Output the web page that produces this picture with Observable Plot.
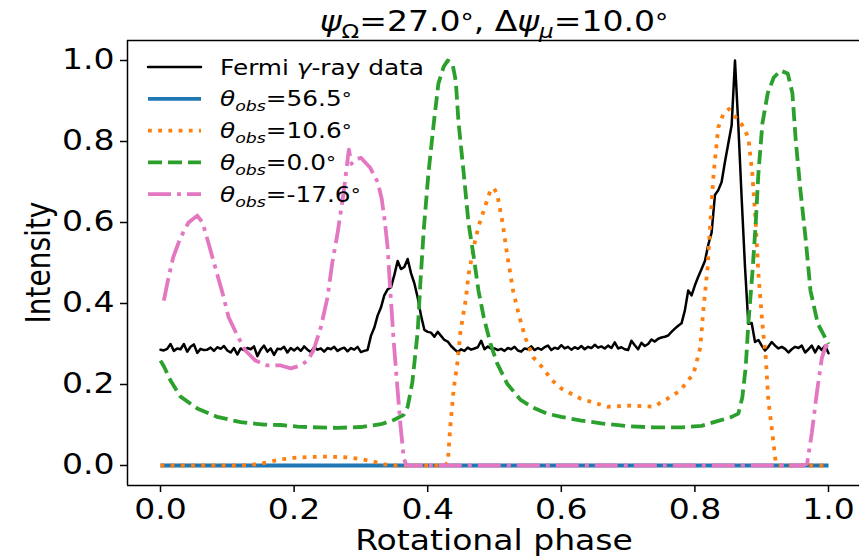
<!DOCTYPE html>
<html><head><meta charset="utf-8">
<script src="https://cdn.jsdelivr.net/npm/d3@7"></script>
<script src="https://cdn.jsdelivr.net/npm/@observablehq/plot@0.6"></script>
<style>
html,body{margin:0;padding:0;background:#fff;}
svg{display:block;}
</style></head><body><div id="chart"></div>
<script>
// ---------------- data ----------------
const xTicks = [0, 0.2, 0.4, 0.6, 0.8, 1.0];
const yTicks = [0, 0.2, 0.4, 0.6, 0.8, 1.0];

// Fermi gamma-ray light curve, bins of 0.005 in phase
const fermiPhase = d3.range(201).map(i => +(i * 0.005).toFixed(3));
const fermiIntensity = [
0.286,0.284,0.288,0.300,0.283,0.289,0.287,0.300,0.281,0.293,
0.299,0.278,0.288,0.285,0.286,0.291,0.283,0.292,0.288,0.295,
0.284,0.279,0.290,0.274,0.289,0.285,0.290,0.287,0.294,0.270,
0.286,0.296,0.281,0.289,0.273,0.288,0.287,0.293,0.279,0.290,
0.284,0.291,0.283,0.294,0.286,0.280,0.292,0.286,0.289,0.281,
0.290,0.287,0.293,0.283,0.288,0.291,0.282,0.290,0.286,0.293,
0.280,0.283,0.285,0.320,0.340,0.370,0.390,0.420,0.435,0.440,
0.470,0.505,0.485,0.490,0.510,0.475,0.450,0.415,0.370,0.335,
0.330,0.328,0.318,0.330,0.320,0.310,0.306,0.295,0.287,0.280,
0.287,0.283,0.291,0.286,0.289,0.292,0.308,0.287,0.294,0.288,
0.289,0.285,0.288,0.283,0.290,0.287,0.293,0.284,0.281,0.289,
0.287,0.294,0.285,0.290,0.286,0.292,0.296,0.285,0.291,0.288,
0.297,0.289,0.293,0.286,0.292,0.288,0.295,0.287,0.293,0.290,
0.298,0.291,0.294,0.289,0.296,0.290,0.304,0.289,0.292,0.287,
0.285,0.308,0.297,0.287,0.303,0.295,0.300,0.311,0.306,0.313,
0.316,0.318,0.321,0.330,0.338,0.345,0.351,0.383,0.432,0.420,
0.445,0.466,0.485,0.505,0.545,0.575,0.668,0.680,0.700,0.750,
0.795,0.840,1.000,0.840,0.660,0.490,0.350,0.352,0.305,0.310,
0.296,0.284,0.293,0.305,0.296,0.289,0.293,0.288,0.279,0.287,
0.293,0.290,0.296,0.279,0.287,0.296,0.279,0.294,0.285,0.296,
0.277
];

// theta_obs = 56.5 deg
const bluePhase = [0, 0.5, 1.0];
const blueIntensity = [0, 0, 0];

// theta_obs = 10.6 deg
const orangePhase = [0,0.12,0.145,0.16,0.18,0.2,0.22,0.25,0.28,0.3,
0.32,0.335,0.35,0.425,0.43,0.434,0.439,0.445,0.449,0.457,
0.461,0.469,0.476,0.484,0.494,0.499,0.504,0.512,0.519,0.528,
0.536,0.546,0.558,0.573,0.585,0.60,0.629,0.669,0.704,0.738,
0.759,0.778,0.798,0.808,0.813,0.819,0.823,0.828,0.835,0.843,
0.851,0.861,0.871,0.880,0.886,0.891,0.895,0.901,0.906,0.910,
0.916,0.921,0.925,1.0];
const orangeIntensity = [0,0,0.003,0.008,0.015,0.019,0.021,0.022,0.02,0.016,
0.009,0.003,0,0,0.007,0.10,0.19,0.26,0.33,0.41,
0.47,0.54,0.59,0.63,0.68,0.685,0.67,0.60,0.52,0.43,
0.375,0.316,0.267,0.24,0.212,0.19,0.165,0.145,0.148,0.145,
0.165,0.185,0.227,0.291,0.39,0.489,0.597,0.72,0.835,0.87,
0.88,0.86,0.84,0.81,0.72,0.60,0.474,0.35,0.267,0.16,
0.079,0.007,0,0];

// theta_obs = 0.0 deg
const greenPhase = [0,0.005,0.015,0.03,0.055,0.085,0.12,0.155,0.18,0.205,
0.235,0.265,0.30,0.33,0.35,0.364,0.370,0.377,0.385,0.389,
0.394,0.401,0.409,0.416,0.424,0.43,0.437,0.442,0.446,0.454,
0.461,0.469,0.476,0.484,0.494,0.504,0.519,0.539,0.558,0.579,
0.60,0.63,0.66,0.70,0.74,0.78,0.81,0.835,0.855,0.865,
0.871,0.876,0.880,0.886,0.891,0.895,0.901,0.909,0.918,0.928,
0.939,0.946,0.951,0.958,0.966,0.973,0.984,1.0];
const greenIntensity = [0.259,0.245,0.21,0.17,0.141,0.12,0.107,0.101,0.1,0.096,
0.094,0.093,0.095,0.102,0.113,0.125,0.145,0.205,0.33,0.45,
0.58,0.72,0.844,0.943,0.985,1.0,0.993,0.95,0.85,0.72,
0.6,0.514,0.432,0.365,0.301,0.252,0.202,0.162,0.143,0.128,
0.12,0.111,0.104,0.097,0.094,0.094,0.098,0.11,0.12,0.128,
0.168,0.242,0.35,0.474,0.597,0.72,0.844,0.919,0.958,0.975,
0.968,0.919,0.802,0.679,0.556,0.432,0.35,0.30];

// theta_obs = -17.6 deg
const pinkPhase = [0.005,0.012,0.019,0.03,0.042,0.055,0.063,0.072,0.082,0.093,
0.102,0.115,0.127,0.142,0.16,0.18,0.195,0.21,0.22,0.229,
0.24,0.25,0.257,0.265,0.274,0.279,0.282,0.286,0.292,0.30,
0.314,0.325,0.331,0.336,0.34,0.344,0.349,0.355,0.359,0.364,
0.368,0.962,0.968,0.975,0.983,0.99,0.996,1.0];
const pinkIntensity = [0.407,0.464,0.514,0.563,0.60,0.617,0.60,0.548,0.489,0.425,
0.366,0.321,0.284,0.259,0.247,0.247,0.24,0.247,0.259,0.284,
0.341,0.415,0.499,0.573,0.672,0.74,0.78,0.745,0.755,0.76,
0.735,0.70,0.66,0.60,0.538,0.432,0.309,0.185,0.104,0.02,
0,0,0.005,0.08,0.185,0.265,0.296,0.29];

// ---------------- styling ----------------
const SX = 1.18; // horizontal stretch of glyphs in the reference
const FONT = "DejaVu Sans";
const X_DOMAIN = [-0.0494, 1.0464];
const Y_DOMAIN = [-0.0494, 1.0494];

const series = [
  {phase: fermiPhase, val: fermiIntensity, color: "#000000", width: 2.5, dash: null, cap: "round",
   label: [{t: "Fermi "}, {t: "γ", i: true}, {t: "-ray data"}]},
  {phase: bluePhase, val: blueIntensity, color: "#1f77b4", width: 3.8, dash: null, cap: "butt",
   label: [{t: "θ", i: true}, {t: "obs", i: true, sub: true}, {t: "=56.5"}, {t: "°", sup: true}]},
  {phase: orangePhase, val: orangeIntensity, color: "#ff7f0e", width: 3.8, dash: "3.8,6.4", cap: "butt",
   label: [{t: "θ", i: true}, {t: "obs", i: true, sub: true}, {t: "=10.6"}, {t: "°", sup: true}]},
  {phase: greenPhase, val: greenIntensity, color: "#2ca02c", width: 3.8, dash: "14,6", cap: "butt",
   label: [{t: "θ", i: true}, {t: "obs", i: true, sub: true}, {t: "=0.0"}, {t: "°", sup: true}]},
  {phase: pinkPhase, val: pinkIntensity, color: "#e377c2", width: 3.8, dash: "23,6,4,6", cap: "butt",
   label: [{t: "θ", i: true}, {t: "obs", i: true, sub: true}, {t: "=-17.6"}, {t: "°", sup: true}]}
];

const lineMarks = series.map(s => Plot.line(s.val, {
  x: (d, i) => s.phase[i], y: d => d,
  stroke: s.color, strokeWidth: s.width,
  strokeDasharray: s.dash || undefined, strokeLinecap: s.cap, strokeLinejoin: "round"
}));

const chart = Plot.plot({
  width: 859, height: 556,
  marginLeft: 127, marginRight: 0, marginTop: 40, marginBottom: 71,
  style: {fontFamily: FONT, fontSize: "28px", color: "#000", background: "#fff", overflow: "visible"},
  x: {domain: X_DOMAIN},
  y: {domain: Y_DOMAIN},
  marks: [
    ...lineMarks,
    Plot.ruleX([X_DOMAIN[0]], {stroke: "#000", strokeWidth: 1.5}),
    Plot.ruleY([Y_DOMAIN[0], Y_DOMAIN[1]], {stroke: "#000", strokeWidth: 1.5}),
    Plot.axisX(xTicks, {tickSize: 7, tickPadding: 7, tickFormat: d3.format(".1f"), label: null, strokeWidth: 1.5, fontSize: 28}),
    Plot.axisY(yTicks, {tickSize: 7, tickPadding: 6, tickFormat: d3.format(".1f"), label: null, strokeWidth: 1.5, fontSize: 28})
  ]
});
document.getElementById("chart").appendChild(chart);

const svg = d3.select(chart);
// stretch tick labels horizontally
svg.selectAll('g[aria-label="x-axis tick label"] text, g[aria-label="y-axis tick label"] text').each(function() {
  const t = this.getAttribute("transform");
  if (t) this.setAttribute("transform", t + ` scale(${SX},1)`);
  else {
    const x = +this.getAttribute("x") || 0, y = +this.getAttribute("y") || 0;
    this.setAttribute("transform", `translate(${x},${y}) scale(${SX},1) translate(${-x},${-y})`);
    }
});

function rich(g, transform, size, parts, anchor) {
  const t = g.append("text").attr("transform", transform)
    .attr("font-family", FONT).attr("font-size", size)
    .attr("text-anchor", anchor || "start").attr("fill", "#000");
  let shift = 0;
  parts.forEach(p => {
    let target = 0;
    if (p.sub) target = 0.24 * size;
    if (p.sup) target = -0.05 * size;
    const ts = t.append("tspan").text(p.t);
    if (p.i) ts.attr("font-style", "italic");
    if (p.sub) ts.attr("font-size", size * 0.7);
    if (p.sup) ts.attr("font-size", size * 0.8);
    if (target !== shift) { ts.attr("dy", target - shift); shift = target; }
  });
  return t;
}

// title
const titleParts = [
  {t: "ψ", i: true}, {t: "Ω", sub: true}, {t: "=27.0"}, {t: "°", sup: true}, {t: ", Δ"},
  {t: "ψ", i: true}, {t: "μ", i: true, sub: true}, {t: "=10.0"}, {t: "°", sup: true}
];
rich(svg, `translate(494,31) scale(${SX},1)`, 28, titleParts, "middle");

// axis titles
svg.append("text").attr("transform", `translate(494,549.5) scale(${SX},1)`)
  .attr("font-family", FONT).attr("font-size", 28).attr("text-anchor", "middle").text("Rotational phase");
svg.append("text").attr("transform", `translate(49.5,262.5) scale(${SX},1) rotate(-90)`)
  .attr("font-family", FONT).attr("font-size", 28).attr("text-anchor", "middle").text("Intensity");

// legend
const lg = svg.append("g");
series.forEach((s, k) => {
  const y = 67 + k * 31.8;
  lg.append("line").attr("x1", 148).attr("x2", 201).attr("y1", y).attr("y2", y)
    .attr("stroke", s.color).attr("stroke-width", s.width)
    .attr("stroke-dasharray", s.dash).attr("stroke-linecap", s.cap);
  rich(lg, `translate(220,${y + 7.6}) scale(${SX},1)`, 21, s.label, "start");
});
</script></body></html>
